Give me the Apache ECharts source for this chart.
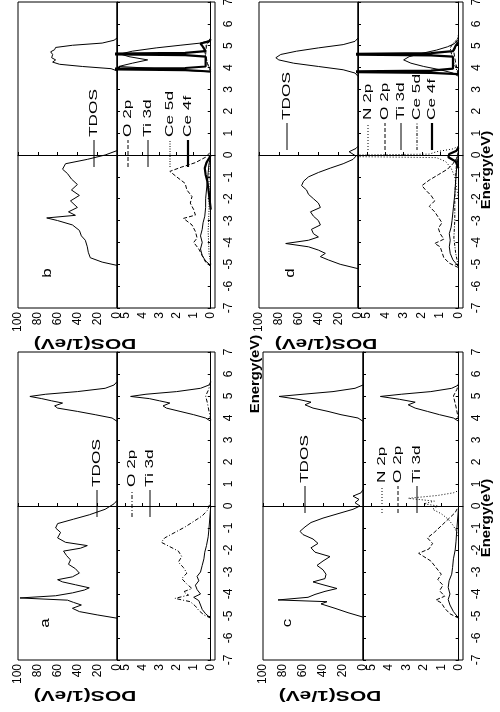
<!DOCTYPE html>
<html><head><meta charset="utf-8">
<script src="https://cdn.jsdelivr.net/npm/echarts@6/dist/echarts.min.js"></script>
<style>html,body{margin:0;padding:0;background:#fff}#c{width:500px;height:712px}</style>
</head><body><div id="c"></div>
<script>
// ---------- DATA: [energy (eV), DOS] ----------
// Panel a : TiO2
const a_TDOS = [[-5.1,0],[-4.95,20],[-4.8,38],[-4.65,45],[-4.5,36],[-4.38,44],[-4.28,50],[-4.18,98],[-4.08,62],[-3.95,45],[-3.82,33],[-3.72,28],[-3.58,42],[-3.45,55],[-3.35,60],[-3.22,45],[-3.05,38],[-2.85,42],[-2.65,49],[-2.45,47],[-2.25,51],[-2.05,54],[-1.92,37],[-1.8,30],[-1.65,52],[-1.45,60],[-1.2,57],[-1.0,62],[-0.8,60],[-0.6,44],[-0.4,28],[-0.15,12],[0.1,3],[0.25,0],[3.85,0],[4.0,5],[4.15,22],[4.3,40],[4.45,60],[4.55,63],[4.68,55],[4.78,66],[4.88,76],[4.98,88],[5.08,72],[5.2,40],[5.35,12],[5.5,3],[5.65,0]];
const a_O2p = [[-5.1,0],[-4.95,0.4],[-4.75,0.7],[-4.55,0.9],[-4.35,1.2],[-4.2,2.1],[-4.05,1.3],[-3.9,1.6],[-3.75,1.1],[-3.55,1.4],[-3.3,1.7],[-3.05,1.4],[-2.8,1.6],[-2.55,1.9],[-2.3,1.7],[-2.05,1.9],[-1.85,2.4],[-1.65,2.9],[-1.45,2.7],[-1.2,2.1],[-0.95,1.5],[-0.7,1.0],[-0.45,0.5],[-0.2,0.2],[0.2,0],[3.9,0],[4.3,0.1],[4.7,0.2],[5.0,0.3],[5.25,0.15],[5.6,0]];
const a_Ti3d = [[-5.1,0],[-4.9,0.3],[-4.7,0.5],[-4.5,0.6],[-4.3,0.7],[-4.15,1.0],[-4.0,0.6],[-3.8,0.8],[-3.6,0.9],[-3.4,0.7],[-3.2,0.8],[-3.0,0.6],[-2.7,0.5],[-2.4,0.4],[-2.1,0.35],[-1.8,0.25],[-1.4,0.15],[-1.0,0.1],[-0.5,0.05],[0,0],[3.85,0],[4.0,0.3],[4.15,1.0],[4.3,1.8],[4.45,2.6],[4.55,2.8],[4.68,2.4],[4.78,3.0],[4.88,3.6],[4.98,4.7],[5.08,3.8],[5.2,2.0],[5.35,0.6],[5.5,0.1],[5.65,0]];
// Panel b : Ce-doped TiO2
const b_TDOS = [[-5.05,0],[-4.9,15],[-4.7,27],[-4.45,29],[-4.2,30],[-3.9,32],[-3.7,36],[-3.45,38],[-3.2,45],[-3.0,60],[-2.88,71],[-2.76,42],[-2.6,49],[-2.4,40],[-2.1,47],[-1.85,38],[-1.6,46],[-1.35,40],[-1.1,46],[-0.85,50],[-0.65,55],[-0.4,52],[-0.2,30],[0.0,12],[0.2,0],[3.85,0],[3.95,6],[4.05,35],[4.15,58],[4.25,65],[4.35,62],[4.45,66],[4.6,65],[4.72,67],[4.82,63],[4.92,62],[5.02,45],[5.12,15],[5.25,3],[5.35,0]];
const b_O2p = [[-5.1,0],[-4.9,0.3],[-4.6,0.5],[-4.3,0.7],[-4.0,1.0],[-3.8,0.8],[-3.5,0.9],[-3.2,1.1],[-2.9,1.6],[-2.75,0.9],[-2.5,1.0],[-2.2,1.2],[-1.9,1.1],[-1.6,1.4],[-1.3,1.5],[-1.0,2.0],[-0.75,2.4],[-0.55,1.7],[-0.35,0.9],[-0.1,0.3],[0.15,0],[3.8,0],[4.2,0.2],[4.6,0.3],[5.0,0.25],[5.3,0]];
const b_Ti3d = [[-5.05,0],[-4.85,0.3],[-4.6,0.5],[-4.3,0.6],[-4.0,0.5],[-3.7,0.6],[-3.4,0.5],[-3.1,0.45],[-2.8,0.35],[-2.4,0.3],[-2.0,0.3],[-1.6,0.25],[-1.2,0.2],[-0.8,0.15],[-0.4,0.1],[0,0],[3.8,0],[3.9,2.0],[4.05,5.4],[4.2,4.6],[4.35,3.7],[4.5,4.8],[4.62,5.3],[4.75,4.6],[4.9,3.2],[5.02,1.8],[5.12,0.6],[5.25,0]];
const b_Ce5d = [[-5.0,0],[-4.5,0.1],[-3.5,0.15],[-2.5,0.1],[-1.5,0.1],[-0.5,0.1],[0,0],[3.9,0],[4.2,0.2],[4.5,0.3],[4.8,0.4],[5.0,0.3],[5.2,0.1],[5.4,0]];
const b_Ce4f = [[-2.5,0],[-1.8,0.1],[-1.2,0.2],[-0.9,0.3],[-0.6,0.35],[-0.35,0.25],[-0.15,0.1],[0,0],[3.82,0],[3.88,1.5],[3.93,8],[3.98,1.5],[4.05,0.3],[4.5,0.3],[4.57,1.5],[4.62,8],[4.67,1.5],[4.75,0.3],[5.0,0.5],[5.1,0.6],[5.2,0.1],[5.3,0]];
// Panel c : N-doped TiO2
const c_TDOS = [[-5.05,0],[-4.85,15],[-4.65,28],[-4.45,42],[-4.35,36],[-4.27,85],[-4.15,55],[-4.02,48],[-3.88,38],[-3.75,26],[-3.58,40],[-3.45,50],[-3.3,38],[-3.1,37],[-2.9,40],[-2.7,46],[-2.5,40],[-2.3,33],[-2.1,48],[-1.9,52],[-1.7,45],[-1.5,50],[-1.3,60],[-1.15,63],[-0.95,58],[-0.75,52],[-0.55,40],[-0.35,25],[-0.15,10],[0,3],[0.15,8],[0.3,4],[0.45,10],[0.6,2],[0.75,0],[3.85,0],[4.0,5],[4.15,22],[4.3,35],[4.45,50],[4.6,58],[4.72,52],[4.85,65],[4.98,84],[5.08,60],[5.2,30],[5.35,8],[5.5,0]];
const c_N2p = [[-1.5,0],[-1.2,0.1],[-0.9,0.3],[-0.6,0.6],[-0.35,1.0],[-0.15,1.5],[0.0,1.2],[0.1,2.0],[0.22,1.4],[0.35,2.9],[0.48,1.2],[0.6,0.3],[0.7,0]];
const c_O2p = [[-5.1,0],[-4.9,0.5],[-4.65,0.8],[-4.4,1.0],[-4.27,1.3],[-4.1,0.8],[-3.85,1.1],[-3.6,0.9],[-3.35,1.2],[-3.1,1.0],[-2.8,1.3],[-2.5,1.6],[-2.3,2.0],[-2.15,2.3],[-1.95,1.7],[-1.7,1.5],[-1.45,1.8],[-1.2,1.4],[-0.9,1.0],[-0.6,0.6],[-0.3,0.2],[0,0],[3.9,0],[4.5,0.15],[5.0,0.3],[5.3,0.1],[5.6,0]];
const c_Ti3d = [[-5.1,0],[-4.8,0.3],[-4.5,0.5],[-4.25,0.6],[-4.0,0.5],[-3.7,0.6],[-3.4,0.55],[-3.1,0.4],[-2.8,0.35],[-2.4,0.3],[-2.0,0.2],[-1.6,0.15],[-1.0,0.1],[-0.5,0.05],[0,0],[3.85,0],[4.0,0.3],[4.15,1.1],[4.3,1.8],[4.45,2.5],[4.6,2.9],[4.72,2.5],[4.85,3.4],[4.98,4.5],[5.08,3.3],[5.2,1.6],[5.35,0.4],[5.5,0]];
// Panel d : (N, Ce)-codoped TiO2
const d_TDOS = [[-5.2,0],[-5.0,18],[-4.8,30],[-4.65,38],[-4.5,33],[-4.35,40],[-4.2,50],[-4.05,73],[-3.9,50],[-3.75,40],[-3.6,45],[-3.4,47],[-3.2,38],[-3.0,40],[-2.8,45],[-2.6,48],[-2.4,38],[-2.2,40],[-2.0,45],[-1.8,50],[-1.6,52],[-1.4,57],[-1.2,55],[-1.0,50],[-0.8,40],[-0.6,28],[-0.4,15],[-0.2,5],[-0.05,2],[0.15,9],[0.3,2],[0.4,0],[3.6,0],[3.75,3],[3.9,15],[4.05,40],[4.2,65],[4.35,80],[4.45,83],[4.6,78],[4.75,62],[4.9,40],[5.05,15],[5.2,3],[5.35,0]];
const d_N2p = [[-2.0,0],[-1.5,0.1],[-1.0,0.2],[-0.6,0.4],[-0.3,0.7],[-0.12,1.2],[-0.04,9],[0.04,1.6],[0.15,1.2],[0.28,0.3],[0.4,0]];
const d_O2p = [[-5.15,0],[-4.95,0.5],[-4.7,0.8],[-4.45,0.9],[-4.2,1.0],[-4.05,1.3],[-3.85,0.8],[-3.6,1.0],[-3.35,1.1],[-3.1,0.9],[-2.85,1.1],[-2.6,1.3],[-2.35,1.6],[-2.1,1.3],[-1.85,1.5],[-1.6,1.8],[-1.4,2.0],[-1.15,1.6],[-0.9,1.1],[-0.65,0.6],[-0.4,0.3],[-0.15,0.1],[0.1,0],[3.7,0],[4.2,0.15],[4.7,0.25],[5.1,0.1],[5.4,0]];
const d_Ti3d = [[-5.1,0],[-4.8,0.3],[-4.5,0.45],[-4.2,0.5],[-3.9,0.45],[-3.6,0.5],[-3.3,0.4],[-3.0,0.35],[-2.6,0.3],[-2.2,0.25],[-1.8,0.2],[-1.2,0.15],[-0.6,0.1],[0,0],[3.6,0],[3.75,0.3],[3.9,1.0],[4.05,1.9],[4.2,2.6],[4.35,3.0],[4.5,2.7],[4.65,2.0],[4.8,1.2],[4.95,0.6],[5.1,0.2],[5.3,0]];
const d_Ce5d = [[-5.1,0],[-4.5,0.15],[-3.8,0.25],[-3.0,0.2],[-2.0,0.2],[-1.0,0.15],[-0.3,0.1],[0.2,0],[3.7,0],[4.1,0.2],[4.5,0.35],[4.9,0.45],[5.1,0.3],[5.3,0.05],[5.5,0]];
const d_Ce4f = [[-0.6,0],[-0.3,0.15],[-0.1,0.55],[0.05,0.5],[0.2,0.1],[0.35,0],[3.7,0],[3.76,1.5],[3.81,8],[3.86,1.5],[3.95,0.3],[4.5,0.3],[4.56,1.5],[4.61,8],[4.66,1.5],[4.75,0.3],[5.0,0.15],[5.15,0]];

const energyTicks = [-7,-6,-5,-4,-3,-2,-1,0,1,2,3,4,5,6,7];
const tdosTicks = [0,20,40,60,80,100];
const pdosTicks = [0,1,2,3,4,5];
const tdosLegend = 'TDOS';
const pdosNames = {
  a: ['O 2p','Ti 3d'],
  b: ['O 2p','Ti 3d','Ce 5d','Ce 4f'],
  c: ['N 2p','O 2p','Ti 3d'],
  d: ['N 2p','O 2p','Ti 3d','Ce 5d','Ce 4f']
};
const pdosData = {
  a: [a_O2p, a_Ti3d],
  b: [b_O2p, b_Ti3d, b_Ce5d, b_Ce4f],
  c: [c_N2p, c_O2p, c_Ti3d],
  d: [d_N2p, d_O2p, d_Ti3d, d_Ce5d, d_Ce4f]
};
const tdosData = {a: a_TDOS, b: b_TDOS, c: c_TDOS, d: d_TDOS};

// ---------- LAYOUT / STYLE ----------
const FONT = '"Liberation Sans", Arial, Helvetica, sans-serif';
const panels = [
  {id:'b', left:18,  mid:117, right:215, top:2,   bottom:308, legX:[128,148,170,188], tdosX:94,  legY:167, letter:[47,273], eTitle:[255,374]},
  {id:'d', left:259, mid:358, right:463, top:2,   bottom:308, legX:[368,385,401,417,432], tdosX:287, legY:150, letter:[290,273], eTitle:[486,170]},
  {id:'a', left:18,  mid:117, right:215, top:352, bottom:660, legX:[132,150], tdosX:97, legY:517, letter:[45,623], eTitle:null},
  {id:'c', left:263, mid:363, right:463, top:352, bottom:660, legX:[382,398,417], tdosX:305, legY:513, letter:[287,623], eTitle:[486,518]}
];
function styleFor(panel, name){
  if(name==='TDOS') return {width:1, type:'solid'};
  if(name==='Ti 3d') return {width:1, type:'solid'};
  if(name==='Ce 4f') return {width:2.2, type:'solid'};
  if(name==='O 2p') return panel==='a' ? {width:1, type:[4,2,1,2]} : {width:1, type:[4,2]};
  if(name==='N 2p') return {width:1, type:[1,2]};
  if(name==='Ce 5d') return panel==='d' ? {width:1, type:[3,1.5,1,1.5]} : {width:1, type:[1,1.5]};
  return {width:1, type:'solid'};
}
// [E, DOS] -> [DOS, E]; break the line across the band gap
function toSeries(arr){
  const out = [];
  arr.forEach((q, i) => {
    if (i > 0 && q[0] - arr[i-1][0] > 1) out.push('-');
    out.push([q[1], q[0]]);
  });
  return out;
}

const grids=[], xAxes=[], yAxes=[], series=[], graphics=[];
const black = '#000';
const tick = (vals) => ({inside:true, length:3, lineStyle:{color:black}, customValues: vals});

panels.forEach((p) => {
  const gT = grids.length;
  const gridBase = {top:p.top, height:p.bottom-p.top, show:true, borderColor:black, borderWidth:1, outerBoundsMode:'none', containLabel:false};
  grids.push({...gridBase, left:p.left, width:p.mid-p.left});
  grids.push({...gridBase, left:p.mid, width:p.right-p.mid});
  xAxes.push({gridIndex:gT, type:'value', min:0, max:100, inverse:true,
    axisLine:{show:true, lineStyle:{color:black}}, axisTick:tick(tdosTicks),
    splitLine:{show:false},
    axisLabel:{rotate:90, fontSize:12, color:black, margin:4, fontFamily:FONT, customValues: tdosTicks}});
  xAxes.push({gridIndex:gT+1, type:'value', min:-0.25, max:5.5, inverse:true,
    axisLine:{show:true, lineStyle:{color:black}}, axisTick:tick(pdosTicks),
    splitLine:{show:false},
    axisLabel:{rotate:90, fontSize:12, color:black, margin:4, fontFamily:FONT, customValues: pdosTicks}});
  yAxes.push({gridIndex:gT, type:'value', min:-7, max:7, position:'left',
    axisLine:{show:true, lineStyle:{color:black}}, axisTick:tick(energyTicks), splitLine:{show:false}, axisLabel:{show:false}});
  yAxes.push({gridIndex:gT+1, type:'value', min:-7, max:7, position:'right',
    axisLine:{show:true, lineStyle:{color:black}}, axisTick:tick(energyTicks), splitLine:{show:false},
    axisLabel:{rotate:90, fontSize:12, color:black, margin:8, fontFamily:FONT, customValues: energyTicks}});

  series.push({type:'line', name:p.id+' TDOS', xAxisIndex:gT, yAxisIndex:gT, showSymbol:false, symbol:'none', clip:true, connectNulls:false,
    lineStyle:{color:black, ...styleFor(p.id,'TDOS')}, data: toSeries(tdosData[p.id]), animation:false, silent:true});
  pdosNames[p.id].forEach((nm, k) => {
    series.push({type:'line', name:p.id+' '+nm, xAxisIndex:gT+1, yAxisIndex:gT+1, showSymbol:false, symbol:'none', clip:true, connectNulls:false,
      lineStyle:{color:black, ...styleFor(p.id,nm)}, data: toSeries(pdosData[p.id][k]), animation:false, silent:true});
  });

  const legLen = 27;
  const addLeg = (x, y, nm) => {
    const st = styleFor(p.id, nm);
    graphics.push({type:'line', shape:{x1:x, y1:y, x2:x, y2:y-legLen}, style:{stroke:black, lineWidth:st.width, lineDash: st.type==='solid'?null:st.type}, silent:true});
    graphics.push({type:'text', x:x, y:y-legLen-3, rotation:Math.PI/2, scaleX:1.5, style:{text:nm, font:'11.5px '+FONT, fill:black, textAlign:'left', textVerticalAlign:'middle'}, silent:true});
  };
  addLeg(p.tdosX, p.legY, tdosLegend);
  pdosNames[p.id].forEach((nm, k) => addLeg(p.legX[k], p.legY, nm));

  graphics.push({type:'text', x:p.letter[0], y:p.letter[1], rotation:Math.PI/2, scaleX:1.3, style:{text:p.id, font:'13px '+FONT, fill:black, textAlign:'center', textVerticalAlign:'middle'}, silent:true});
  graphics.push({type:'text', x:p.left+67, y:p.bottom+35, rotation:Math.PI, scaleX:1.4, style:{text:'DOS(1/eV)', font:'bold 15px '+FONT, fill:black, textAlign:'center', textVerticalAlign:'middle'}, silent:true});
  if(p.eTitle){
    graphics.push({type:'text', x:p.eTitle[0], y:p.eTitle[1], rotation:Math.PI/2, scaleX:1.1, style:{text:'Energy(eV)', font:'bold 13.5px '+FONT, fill:black, textAlign:'center', textVerticalAlign:'middle'}, silent:true});
  }
});

const chart = echarts.init(document.getElementById('c'), null, {renderer:'canvas'});
chart.setOption({
  backgroundColor:'#fff',
  animation:false,
  grid:grids, xAxis:xAxes, yAxis:yAxes, series:series,
  graphic:{elements:graphics}
});
</script></body></html>
